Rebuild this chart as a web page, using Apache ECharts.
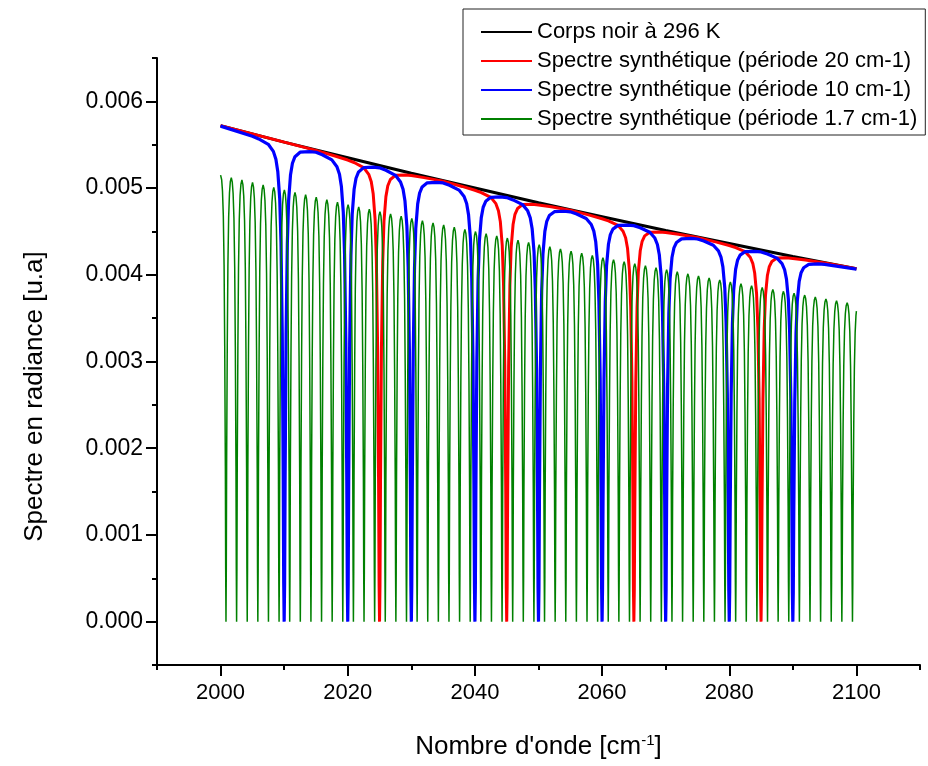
<!DOCTYPE html>
<html><head><meta charset="utf-8">
<script src="https://cdn.jsdelivr.net/npm/echarts@6/dist/echarts.min.js"></script>
<style>html,body{margin:0;padding:0;background:#fff}#c{width:928px;height:766px}</style>
</head><body><div id="c"></div>
<script>
// ---- values ----
// Blackbody envelope (Corps noir à 296 K), sampled every 10 cm-1
const bbX = [2000, 2010, 2020, 2030, 2040, 2050, 2060, 2070, 2080, 2090, 2100];
const bbY = [0.00572, 0.00553, 0.00535, 0.00517, 0.00500, 0.00483, 0.00467, 0.00451, 0.00436, 0.00421, 0.00407];
// peak level of the green (1.7 cm-1) arches, same abscissae
const greenPeakY = [0.00515, 0.00498, 0.00481, 0.00465, 0.00450, 0.00435, 0.00420, 0.00406, 0.00392, 0.00379, 0.00366];
// line centres (dips to zero)
const redDips = [2025, 2045, 2065, 2085];
const blueDips = [2010, 2020, 2030, 2040, 2050, 2060, 2070, 2080, 2090];
const greenDips = [2000.85, 2002.52, 2004.19, 2005.86, 2007.53, 2009.20, 2010.87, 2012.54, 2014.21, 2015.88,
  2017.55, 2019.22, 2020.89, 2022.56, 2024.23, 2025.90, 2027.57, 2029.24, 2030.91, 2032.58,
  2034.25, 2035.92, 2037.59, 2039.26, 2040.93, 2042.60, 2044.27, 2045.94, 2047.61, 2049.28,
  2050.95, 2052.62, 2054.29, 2055.96, 2057.63, 2059.30, 2060.97, 2062.64, 2064.31, 2065.98,
  2067.65, 2069.32, 2070.99, 2072.66, 2074.33, 2076.00, 2077.67, 2079.34, 2081.01, 2082.68,
  2084.35, 2086.02, 2087.69, 2089.36, 2091.03, 2092.70, 2094.37, 2096.04, 2097.71, 2099.38];
// dip shape (distance from line centre in cm-1 -> fraction of envelope)
const lineProfileD = [0, 0.07, 0.15, 0.3, 0.5, 0.7, 1.0, 1.3, 1.7, 2.5, 4, 5, 7, 10];
const lineProfileT = [0, 0.08, 0.3, 0.6, 0.79, 0.88, 0.935, 0.96, 0.975, 0.987, 0.993, 0.995, 0.997, 0.999];
const greenProfileD = [0, 0.05, 0.1, 0.2, 0.3, 0.42, 0.55, 0.68, 0.835];
const greenProfileT = [0, 0.12, 0.35, 0.62, 0.8, 0.91, 0.965, 0.99, 1];
// axis ticks
const xTicksMajor = [2000, 2020, 2040, 2060, 2080, 2100];
const xTicksMinor = [1990, 2010, 2030, 2050, 2070, 2090, 2110];
const yTicksMajor = [0, 0.001, 0.002, 0.003, 0.004, 0.005, 0.006];
const yTicksMinor = [-0.0005, 0.0005, 0.0015, 0.0025, 0.0035, 0.0045, 0.0055, 0.0065];
const seriesNames = ['Corps noir à 296 K', 'Spectre synthétique (période 20 cm-1)',
  'Spectre synthétique (période 10 cm-1)', 'Spectre synthétique (période 1.7 cm-1)'];

// ---- build tables for the library ----
function lerp(xs, ys, x) {
  if (x <= xs[0]) return ys[0];
  for (let i = 1; i < xs.length; i++) {
    if (x <= xs[i]) { const t = (x - xs[i-1]) / (xs[i] - xs[i-1]); return ys[i-1] + t * (ys[i] - ys[i-1]); }
  }
  return ys[ys.length - 1];
}
function buildSeries(envY, dips, profD, profT, half) {
  const env = x => lerp(bbX, envY, x);
  const tAt = x => { let m = 1; dips.forEach(c => { const d = Math.abs(x - c); if (d <= profD[profD.length-1]) m = Math.min(m, lerp(profD, profT, d)); }); return m; };
  const pts = [];
  dips.forEach(c => {
    for (let i = 0; i < profD.length; i++) {
      if (profD[i] > half + 1e-9) continue;
      [c - profD[i], c + profD[i]].forEach(x => { if (x > 2000 && x < 2100) pts.push(x); });
    }
  });
  pts.push(2000, 2100);
  const xs = Array.from(new Set(pts.map(v => +v.toFixed(4)))).sort((a, b) => a - b);
  return xs.map(x => [x, env(x) * tAt(x)]);
}
const blackData = bbX.map((x, i) => [x, bbY[i]]);
const redData = buildSeries(bbY, redDips, lineProfileD, lineProfileT, 10);
const blueData = buildSeries(bbY, blueDips, lineProfileD, lineProfileT, 5);
const greenData = buildSeries(greenPeakY, greenDips, greenProfileD, greenProfileT, 0.835);

const FF = 'Liberation Sans, Arial, sans-serif';
const chart = echarts.init(document.getElementById('c'), null, {renderer: 'canvas'});
function mkSeries(name, data, color, width) {
  return {name, type: 'line', data, symbol: 'none', showSymbol: false, animation: false,
    lineStyle: {color, width}, itemStyle: {color}, emphasis: {disabled: true}};
}
chart.setOption({
  backgroundColor: '#fff',
  animation: false,
  grid: {left: 157, right: 8, top: 58, bottom: 101, containLabel: false, outerBoundsMode: 'none'},
  legend: {
    data: seriesNames, orient: 'vertical', left: 463, top: 9,
    padding: [12, 8, 5, 17], itemWidth: 51, itemHeight: 14, itemGap: 7,
    borderColor: '#222', borderWidth: 1, backgroundColor: '#fff',
    itemStyle: {opacity: 0},
    textStyle: {fontFamily: FF, fontSize: 22, color: '#000', lineHeight: 22}
  },
  xAxis: [
    {type: 'value', min: 1990, max: 2110, interval: 10, position: 'bottom',
     axisLine: {show: true, onZero: false, lineStyle: {color: '#000', width: 2}},
     axisTick: {show: true, customValues: xTicksMajor, length: 11, lineStyle: {color: '#000', width: 2}},
     axisLabel: {customValues: xTicksMajor, formatter: v => String(v), fontFamily: FF, fontSize: 22, color: '#000', margin: 17},
     splitLine: {show: false},
     name: "Nombre d'onde [cm{sup|-1}]", nameLocation: 'middle', nameGap: 68, nameMoveOverlap: false,
     nameTextStyle: {fontFamily: FF, fontSize: 26, color: '#000',
       rich: {sup: {fontFamily: FF, fontSize: 15, color: '#000', padding: [0, 0, 12, 0]}}}},
    {type: 'value', min: 1990, max: 2110, interval: 10, position: 'bottom', gridIndex: 0,
     axisLine: {show: false, onZero: false},
     axisTick: {show: true, customValues: xTicksMinor, length: 5, lineStyle: {color: '#000', width: 2}},
     axisLabel: {show: false}, splitLine: {show: false}}
  ],
  yAxis: [
    {type: 'value', min: -0.0005, max: 0.0065, interval: 0.0005, position: 'left',
     axisLine: {show: true, onZero: false, lineStyle: {color: '#000', width: 2}},
     axisTick: {show: true, customValues: yTicksMajor, length: 11, lineStyle: {color: '#000', width: 2}},
     axisLabel: {customValues: yTicksMajor, formatter: v => v.toFixed(3), fontFamily: FF, fontSize: 23, color: '#000', margin: 14},
     splitLine: {show: false},
     name: 'Spectre en radiance [u.a]', nameLocation: 'middle', nameGap: 109, nameMoveOverlap: false,
     nameTextStyle: {fontFamily: FF, fontSize: 26, color: '#000', padding: [0, 70, 0, 0]}},
    {type: 'value', min: -0.0005, max: 0.0065, interval: 0.0005, position: 'left', gridIndex: 0, offset: 0,
     axisLine: {show: false, onZero: false},
     axisTick: {show: true, customValues: yTicksMinor, length: 5, lineStyle: {color: '#000', width: 2}},
     axisLabel: {show: false}, splitLine: {show: false}}
  ],
  series: [
    mkSeries(seriesNames[0], blackData, '#000000', 3),
    mkSeries(seriesNames[1], redData, '#ff0000', 3),
    mkSeries(seriesNames[2], blueData, '#0000ff', 3.2),
    mkSeries(seriesNames[3], greenData, '#008000', 1.5)
  ]
});
</script></body></html>
